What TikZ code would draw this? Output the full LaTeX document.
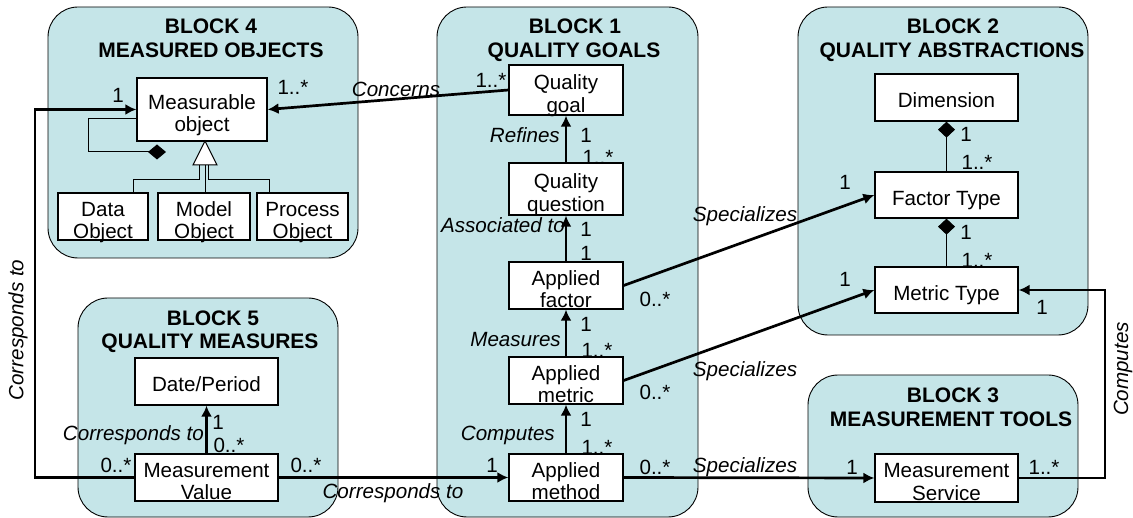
\documentclass[tikz,border=0pt]{standalone}
\usepackage{fontspec}
\setmainfont{Liberation Sans}
\usetikzlibrary{arrows.meta}
\definecolor{blockfill}{RGB}{197,229,232}
\newcommand\twoln[2]{\begin{tabular}[t]{@{}c@{}}#1\\#2\end{tabular}}
\begin{document}
\begin{tikzpicture}[x=1pt,y=-1pt,
  block/.style={draw=black, line width=0.9pt, fill=blockfill, rounded corners=30pt},
  box/.style={draw=black, line width=1.3pt, fill=white, inner sep=0pt,
    font=\fontsize{20.6}{22.5}\selectfont, text height=11pt, text depth=11pt},
  boxone/.style={box, text height=21pt, text depth=0pt},
  lbl/.style={inner sep=0pt, anchor=base, font=\fontsize{20.6}{22.5}\selectfont},
  ital/.style={lbl, font=\fontsize{20.6}{22.5}\selectfont\itshape},
  ttl/.style={lbl, font=\fontsize{21}{22.5}\selectfont\bfseries},
  conn/.style={line width=2.7pt, -{Latex[length=11pt,width=11pt]}},
  thinl/.style={line width=1pt},
  comp/.style={line width=1pt, -{Diamond[length=16pt,width=17pt]}}]
\useasboundingbox (0,0) rectangle (1133,518);

% blocks
\draw[block] (48,7) rectangle (358,258);
\draw[block] (437,7) rectangle (698,517);
\draw[block] (798,7) rectangle (1088,335);
\draw[block] (808,375) rectangle (1078,517);
\draw[block] (78,298) rectangle (338,517);

% titles
\node[ttl] (t4a) at (211,34) {BLOCK 4};
\node[ttl] (t4b) at (211,58) {MEASURED OBJECTS};
\node[ttl] (t1a) at (575,34) {BLOCK 1};
\node[ttl] (t1b) at (574,58) {QUALITY GOALS};
\node[ttl] (t2a) at (953,34) {BLOCK 2};
\node[ttl] (t2b) at (952,58) {QUALITY ABSTRACTIONS};
\node[ttl] (t3a) at (953,403) {BLOCK 3};
\node[ttl] (t3b) at (951,427) {MEASUREMENT TOOLS};
\node[ttl] (t5a) at (213,326) {BLOCK 5};
\node[ttl] (t5b) at (210,349) {QUALITY MEASURES};

% boxes
\node[box, minimum width=130, minimum height=63] (mo) at (202,109.5) {\twoln{Measurable}{object}};
\node[box, minimum width=90, minimum height=47] (data) at (103,216.5) {\twoln{Data}{Object}};
\node[box, minimum width=92, minimum height=47] (model) at (204,216.5) {\twoln{Model}{Object}};
\node[box, minimum width=91, minimum height=47] (proc) at (302.5,216.5) {\twoln{Process}{Object}};

\node[box, minimum width=114, minimum height=50] (qg) at (566,90) {\twoln{Quality}{goal}};
\node[box, minimum width=114, minimum height=52] (qq) at (566,189) {\twoln{Quality}{question}};
\node[box, minimum width=114, minimum height=47] (af) at (566,285.5) {\twoln{Applied}{factor}};
\node[box, minimum width=114, minimum height=47] (am) at (566,380.5) {\twoln{Applied}{metric}};
\node[box, minimum width=114, minimum height=47] (ameth) at (566,477.5) {\twoln{Applied}{method}};

\node[boxone, minimum width=143, minimum height=47] (dim) at (946.5,97.5) {Dimension};
\node[boxone, minimum width=143, minimum height=46] (ft) at (946.5,195) {Factor Type};
\node[boxone, minimum width=143, minimum height=46] (mt) at (946.5,290) {Metric Type};
\node[box, minimum width=143, minimum height=48] (ms) at (946.5,478) {\twoln{Measurement}{Service}};

\node[boxone, minimum width=143, minimum height=47] (dp) at (206.5,381.5) {Date/Period};
\node[box, minimum width=143, minimum height=47] (mv) at (206.5,477.5) {\twoln{Measurement}{Value}};

% block 4 internal
\coordinate (loopa) at (88,119);
\coordinate (loope) at (166,152);
\draw[thinl, -{Diamond[length=18pt,width=15pt]}] ([yshift=-9.5pt]mo.west) -- (loopa) |- (loope);
\coordinate (tria) at (205,141);
\draw[thinl, fill=white] (tria) -- (193,165) -- (217,165) -- cycle;
\coordinate (gl) at (199,165);
\coordinate (gm) at (205,165);
\coordinate (gr) at (208,165);
\coordinate (dl) at (133,180);
\coordinate (dr) at (269,180);
\draw[thinl] (gl) |- (dl) -- (dl |- data.north);
\draw[thinl] (gm) -- (gm |- model.north);
\draw[thinl] (gr) |- (dr) -- (dr |- proc.north);
\node[lbl] (l4a) at (118,103) {1};
\node[lbl] (l4b) at (293,95) {1..*};

% concerns
\draw[conn] (qg.west) -- (mo.east);
\node[ital] (lcon) at (396,97) {Concerns};
\node[lbl] (l1a) at (491,88) {1..*};

% block 1 chain
\draw[conn] (qq.north) -- (qg.south);
\draw[conn] (af.north) -- (qq.south);
\draw[conn] (am.north) -- (af.south);
\draw[conn] (ameth.north) -- (am.south);
\node[ital, anchor=base east] (lref) at (560,143) {Refines};
\node[lbl] (l1b) at (586,143) {1};
\node[lbl] (l1c) at (598,165) {1..*};
\node[ital, anchor=base east] (lass) at (565,233) {Associated to};
\node[lbl] (l1d) at (586,237) {1};
\node[lbl] (l1e) at (586,261) {1};
\node[lbl] (l1f) at (655,307) {0..*};
\node[ital, anchor=base east] (lmeas) at (561,347) {Measures};
\node[lbl] (l1g) at (586,332) {1};
\node[lbl] (l1h) at (597,358) {1..*};
\node[lbl] (l1i) at (655,400) {0..*};
\node[ital, anchor=base east] (lcomp) at (555,441) {Computes};
\node[lbl] (l1j) at (586,427) {1};
\node[lbl] (l1k) at (597,455) {1..*};
\node[lbl] (l1l) at (492,473) {1};
\node[lbl] (l1m) at (655,475) {0..*};

% specializes
\draw[conn] (af.east) -- (ft.west);
\draw[conn] (am.east) -- (mt.west);
\draw[conn] (ameth.east) -- (ms.west);
\node[ital] (ls1) at (745,222) {Specializes};
\node[ital] (ls2) at (745,377) {Specializes};
\node[ital] (ls3) at (745,472) {Specializes};

% block 2
\draw[comp] (ft.north) -- (dim.south);
\draw[comp] (mt.north) -- (ft.south);
\node[lbl] (l2a) at (966,142) {1};
\node[lbl] (l2b) at (977,170) {1..*};
\node[lbl] (l2c) at (966,240) {1};
\node[lbl] (l2d) at (977,268) {1..*};
\node[lbl] (l2e) at (845,190) {1};
\node[lbl] (l2f) at (845,287) {1};
\node[lbl] (l2g) at (1042,315) {1};

% computes
\coordinate (cr) at (1105,0);
\draw[conn] (ms.east) -- (ms.east -| cr) -- (cr |- mt.east) -- (mt.east);
\node[ital, rotate=90, anchor=center] (lcr) at (1123,369) {Computes};
\node[lbl] (l3a) at (852,475) {1};
\node[lbl] (l3b) at (1044,475) {1..*};

% block 5
\draw[conn] (mv.north) -- (dp.south);
\node[ital, anchor=base east] (lc5) at (204,441) {Corresponds to};
\node[lbl] (l5a) at (218,430) {1};
\node[lbl] (l5b) at (229,453) {0..*};
\node[lbl] (l5c) at (116,473) {0..*};
\node[lbl] (l5d) at (306,473) {0..*};

% corresponds to (left)
\coordinate (cl) at (35,0);
\draw[conn] (mv.west) -- (mv.west -| cl) -- (cl |- mo.west) -- (mo.west);
\node[ital, rotate=90, anchor=center] (lcl) at (18,330) {Corresponds to};

% corresponds to (bottom)
\draw[conn] (mv.east) -- (ameth.west);
\node[ital] (lcb) at (393,499) {Corresponds to};
\end{tikzpicture}
\end{document}
